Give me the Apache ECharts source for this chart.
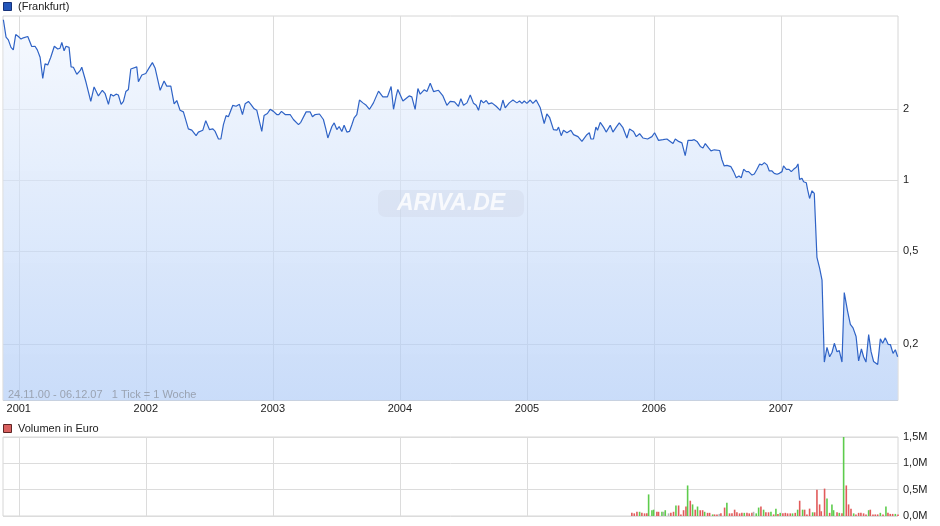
<!DOCTYPE html>
<html><head><meta charset="utf-8">
<script src="https://cdn.jsdelivr.net/npm/echarts@6/dist/echarts.min.js"></script>
<style>html,body{margin:0;padding:0;background:#fff}#c{width:940px;height:526px}</style>
</head><body><div id="c"></div><script>
// ---- data ----
const yearTicks = [2001, 2002, 2003, 2004, 2005, 2006, 2007];
const priceTicks = [0.2, 0.5, 1, 2];
const volumeTicks = [0, 0.5, 1, 1.5];

const priceYears = [2000.879,2000.900,2000.918,2000.939,2000.957,2000.976,2000.997,2001.018,2001.036,2001.071,
2001.102,2001.128,2001.146,2001.168,2001.189,2001.207,2001.228,2001.252,2001.280,2001.307,
2001.325,2001.339,2001.357,2001.372,2001.396,2001.412,2001.430,2001.457,2001.483,2001.496,
2001.530,2001.567,2001.593,2001.627,2001.658,2001.680,2001.706,2001.724,2001.745,2001.766,
2001.784,2001.806,2001.824,2001.843,2001.863,2001.882,2001.929,2001.942,2001.969,2002.000,
2002.026,2002.052,2002.073,2002.113,2002.144,2002.165,2002.197,2002.223,2002.244,2002.270,
2002.296,2002.309,2002.335,2002.362,2002.375,2002.396,2002.414,2002.449,2002.472,2002.501,
2002.528,2002.546,2002.572,2002.591,2002.611,2002.632,2002.650,2002.685,2002.711,2002.737,
2002.761,2002.782,2002.808,2002.827,2002.853,2002.874,2002.913,2002.931,2002.957,2002.979,
2003.005,2003.031,2003.047,2003.068,2003.097,2003.136,2003.162,2003.202,2003.220,2003.262,
2003.294,2003.312,2003.333,2003.367,2003.398,2003.417,2003.433,2003.465,2003.483,2003.504,
2003.522,2003.543,2003.561,2003.583,2003.603,2003.622,2003.640,2003.661,2003.682,2003.709,
2003.735,2003.761,2003.774,2003.792,2003.832,2003.866,2003.902,2003.931,2003.950,2003.971,
2003.984,2004.024,2004.073,2004.094,2004.120,2004.142,2004.160,2004.191,2004.213,2004.239,
2004.265,2004.304,2004.339,2004.370,2004.396,2004.430,2004.461,2004.480,2004.501,2004.528,
2004.554,2004.580,2004.601,2004.619,2004.638,2004.658,2004.680,2004.698,2004.724,2004.758,
2004.790,2004.811,2004.829,2004.861,2004.890,2004.921,2004.942,2004.961,2004.979,2005.000,
2005.026,2005.047,2005.073,2005.105,2005.136,2005.157,2005.178,2005.209,2005.236,2005.249,
2005.270,2005.288,2005.315,2005.346,2005.367,2005.402,2005.433,2005.446,2005.472,2005.491,
2005.504,2005.524,2005.543,2005.556,2005.577,2005.603,2005.624,2005.656,2005.677,2005.703,
2005.727,2005.756,2005.787,2005.808,2005.839,2005.861,2005.887,2005.913,2005.950,2005.984,
2006.005,2006.036,2006.071,2006.102,2006.128,2006.150,2006.168,2006.194,2006.220,2006.246,
2006.268,2006.299,2006.317,2006.339,2006.365,2006.386,2006.404,2006.430,2006.449,2006.475,
2006.517,2006.535,2006.553,2006.575,2006.606,2006.627,2006.648,2006.669,2006.687,2006.706,
2006.727,2006.745,2006.772,2006.790,2006.811,2006.831,2006.850,2006.869,2006.890,2006.908,
2006.929,2006.947,2006.969,2006.987,2007.008,2007.020,2007.042,2007.063,2007.081,2007.099,
2007.120,2007.134,2007.146,2007.165,2007.178,2007.199,2007.209,2007.225,2007.244,2007.262,
2007.283,2007.304,2007.323,2007.341,2007.362,2007.383,2007.402,2007.420,2007.441,2007.459,
2007.480,2007.498,2007.524,2007.546,2007.567,2007.577,2007.591,2007.611,2007.633,2007.650,
2007.669,2007.690,2007.709,2007.729,2007.761,2007.782,2007.800,2007.821,2007.843,2007.861,
2007.882,2007.900,2007.918];

const priceValues = [4.81,4.06,3.95,3.67,3.58,4.16,4.08,3.98,4.03,4.08,
3.70,3.71,3.58,3.33,2.71,3.12,3.09,3.33,3.71,3.61,
3.64,3.85,3.55,3.71,3.67,3.03,3.02,2.82,2.92,3.02,
2.60,2.16,2.49,2.28,2.41,2.33,2.10,2.32,2.28,2.32,
2.30,2.10,2.16,2.38,2.43,2.97,3.03,2.62,2.80,2.84,
3.00,3.16,3.00,2.41,2.64,2.51,2.51,2.11,2.18,1.98,
1.95,1.94,1.65,1.63,1.61,1.545,1.60,1.63,1.79,1.64,
1.65,1.61,1.495,1.495,1.72,1.88,1.86,2.08,2.06,2.10,
1.90,2.11,2.16,2.10,2.01,1.98,1.61,1.88,1.92,2.00,
1.96,1.90,1.90,1.96,1.90,1.90,1.81,1.72,1.76,1.95,
1.95,1.86,1.90,1.91,1.81,1.65,1.51,1.69,1.75,1.64,
1.69,1.61,1.71,1.60,1.61,1.72,1.84,1.90,2.19,2.13,
2.08,2.00,2.00,2.13,2.39,2.26,2.26,2.50,2.00,2.28,
2.43,2.17,2.28,2.26,2.00,2.45,2.32,2.42,2.38,2.58,
2.38,2.41,2.28,2.08,2.16,2.15,2.06,2.22,2.08,2.13,
2.30,2.12,2.08,1.98,2.19,2.13,2.18,2.11,2.13,2.06,
1.98,2.19,2.03,2.13,2.19,2.13,2.17,2.12,2.17,2.12,
2.19,2.12,2.19,2.03,1.74,1.91,1.85,1.64,1.63,1.68,
1.545,1.63,1.59,1.63,1.56,1.53,1.46,1.445,1.56,1.59,
1.495,1.495,1.68,1.63,1.76,1.68,1.60,1.71,1.60,1.68,
1.75,1.67,1.51,1.65,1.61,1.53,1.575,1.51,1.495,1.53,
1.59,1.475,1.485,1.495,1.46,1.43,1.495,1.46,1.44,1.27,
1.475,1.475,1.485,1.46,1.39,1.37,1.43,1.37,1.33,1.345,
1.336,1.22,1.148,1.154,1.14,1.086,1.023,1.040,1.023,1.111,
1.086,1.086,1.05,1.061,1.111,1.168,1.16,1.186,1.16,1.093,
1.093,1.068,1.058,1.068,1.086,1.148,1.111,1.111,1.086,1.111,
1.134,1.171,1.007,1.017,0.983,0.974,0.912,0.835,0.900,0.877,
0.469,0.422,0.375,0.168,0.194,0.177,0.185,0.202,0.186,0.188,
0.168,0.332,0.277,0.243,0.235,0.236,0.216,0.170,0.191,0.177,
0.168,0.220,0.186,0.169,0.164,0.211,0.202,0.213,0.200,0.1995,
0.183,0.1895,0.177];

// weekly volume (millions of euro) and direction: u = up (green), d = down (red), n = unchanged (grey)
const volumeYears = [2005.826,2005.845,2005.866,2005.887,2005.905,2005.926,2005.944,2005.958,2005.984,2005.997,
2006.023,2006.036,2006.063,2006.076,2006.089,2006.115,2006.133,2006.154,2006.173,2006.194,
2006.212,2006.233,2006.252,2006.265,2006.286,2006.304,2006.325,2006.343,2006.364,2006.383,
2006.399,2006.422,2006.438,2006.462,2006.477,2006.496,2006.514,2006.527,2006.556,2006.574,
2006.595,2006.614,2006.635,2006.653,2006.674,2006.692,2006.711,2006.732,2006.750,2006.771,
2006.784,2006.805,2006.824,2006.842,2006.863,2006.881,2006.902,2006.921,2006.942,2006.960,
2006.976,2006.994,2007.015,2007.034,2007.052,2007.073,2007.091,2007.112,2007.131,2007.147,
2007.170,2007.186,2007.204,2007.225,2007.249,2007.265,2007.283,2007.304,2007.317,2007.343,
2007.362,2007.383,2007.401,2007.414,2007.441,2007.459,2007.480,2007.493,2007.514,2007.532,
2007.551,2007.572,2007.590,2007.611,2007.629,2007.650,2007.669,2007.690,2007.703,2007.724,
2007.742,2007.761,2007.782,2007.803,2007.826,2007.842,2007.860,2007.879,2007.900,2007.921];
const volumeMillions = [0.06,0.05,0.08,0.08,0.06,0.05,0.05,0.41,0.11,0.12,
0.08,0.08,0.08,0.08,0.11,0.05,0.06,0.08,0.20,0.20,
0.03,0.11,0.18,0.58,0.29,0.22,0.12,0.18,0.11,0.11,
0.08,0.06,0.06,0.03,0.03,0.03,0.04,0.05,0.16,0.25,
0.05,0.05,0.12,0.07,0.05,0.06,0.06,0.06,0.05,0.06,
0.08,0.05,0.16,0.18,0.12,0.07,0.07,0.08,0.03,0.14,
0.04,0.06,0.05,0.06,0.05,0.05,0.05,0.06,0.12,0.29,
0.12,0.12,0.03,0.14,0.07,0.07,0.50,0.22,0.09,0.52,
0.33,0.06,0.22,0.11,0.07,0.06,0.05,1.50,0.58,0.22,
0.14,0.05,0.03,0.06,0.06,0.05,0.03,0.11,0.12,0.03,
0.03,0.03,0.06,0.03,0.18,0.06,0.04,0.04,0.04,0.03];
const volumeDir = ['d','d','d','u','d','d','d','u','u','u',
'd','d','u','n','u','n','d','d','u','d',
'd','d','d','u','d','u','d','u','d','d',
'u','d','d','u','d','d','n','d','d','u',
'd','d','d','d','d','d','u','d','d','d',
'n','u','u','d','u','d','d','u','d','u',
'd','u','d','d','d','d','u','d','u','d',
'u','d','d','d','u','d','d','d','d','d',
'u','d','u','u','d','u','d','u','d','d',
'd','u','d','d','d','d','d','u','d','d',
'd','d','u','d','u','d','d','d','u','d'];

// ---- chart ----
const FONT = 'Liberation Sans, Arial, sans-serif';
const dirColor = { u: '#5dcc4c', d: '#e15b5b', n: '#b4b4b4' };
const decComma = v => String(v).replace('.', ',');
const chart = echarts.init(document.getElementById('c'));

const gridLine = { show: true, lineStyle: { color: '#dcdcdc', width: 1 } };

chart.setOption({
  animation: false,
  grid: [
    { left: 3, top: 16, width: 895, height: 384.5, show: true, borderColor: '#d6d6d6', borderWidth: 1 },
    { left: 3, top: 437, width: 895, height: 79, show: true, borderColor: '#d6d6d6', borderWidth: 1 }
  ],
  xAxis: [
    { type: 'value', gridIndex: 0, min: 2000.876, max: 2007.921,
      axisLine: { show: false }, axisTick: { show: false, customValues: yearTicks },
      axisLabel: { customValues: yearTicks, formatter: v => String(Math.round(v)), color: '#222', fontSize: 11, fontFamily: FONT, margin: 3 },
      splitLine: gridLine },
    { type: 'value', gridIndex: 1, min: 2000.876, max: 2007.921,
      axisLine: { show: false }, axisTick: { show: false, customValues: yearTicks },
      axisLabel: { show: false }, splitLine: gridLine }
  ],
  yAxis: [
    { type: 'log', logBase: 10, gridIndex: 0, position: 'right', min: 0.1153, max: 4.99,
      axisLine: { show: false }, axisTick: { show: false, customValues: priceTicks },
      axisLabel: { customValues: priceTicks, formatter: v => decComma(v), color: '#222', fontSize: 11, fontFamily: FONT, margin: 5 },
      splitLine: gridLine },
    { type: 'value', gridIndex: 1, position: 'right', min: 0, max: 1.5, interval: 0.5,
      axisLine: { show: false }, axisTick: { show: false },
      axisLabel: { formatter: v => v.toFixed(1).replace('.', ',') + 'M', color: '#222', fontSize: 11, fontFamily: FONT, margin: 5 },
      splitLine: gridLine }
  ],
  series: [
    { type: 'line', xAxisIndex: 0, yAxisIndex: 0, showSymbol: false, smooth: false,
      data: priceYears.map((x, i) => [x, priceValues[i]]),
      lineStyle: { color: '#2f63c6', width: 1.2 },
      areaStyle: { origin: 'start', color: { type: 'linear', x: 0, y: 16, x2: 0, y2: 400, global: true,
        colorStops: [ { offset: 0, color: 'rgba(241,246,254,0.88)' }, { offset: 1, color: 'rgba(170,200,246,0.9)' } ] } },
      z: 3 },
    { type: 'bar', xAxisIndex: 1, yAxisIndex: 1, barWidth: 1.6,
      data: volumeYears.map((x, i) => ({ value: [x, volumeMillions[i]], itemStyle: { color: dirColor[volumeDir[i]] } })) }
  ],
  graphic: [
    { type: 'rect', shape: { x: 3.5, y: 2.5, width: 8, height: 8 }, style: { fill: '#2356ba', stroke: '#17327a', lineWidth: 1 } },
    { type: 'text', x: 18, y: 6.5, style: { text: '(Frankfurt)', fill: '#222', font: '11px ' + FONT, verticalAlign: 'middle' } },
    { type: 'rect', shape: { x: 3.5, y: 424.5, width: 8, height: 8 }, style: { fill: '#d9605f', stroke: '#5e2424', lineWidth: 1 } },
    { type: 'text', x: 18, y: 428.5, style: { text: 'Volumen in Euro', fill: '#222', font: '11px ' + FONT, verticalAlign: 'middle' } },
    { type: 'text', x: 8, y: 395, z: 10, style: { text: '24.11.00 - 06.12.07   1 Tick = 1 Woche', fill: '#9aa3b2', font: '11px ' + FONT, verticalAlign: 'middle' } },
    { type: 'rect', z: 10, shape: { x: 378, y: 190, width: 146, height: 27, r: 7 }, style: { fill: 'rgba(205,212,226,0.32)' } },
    { type: 'text', z: 11, x: 451, y: 203.5, style: { text: 'ARIVA.DE', fill: 'rgba(255,255,255,0.8)', font: 'italic bold 23px ' + FONT, align: 'center', verticalAlign: 'middle' } }
  ]
});
</script></body></html>
